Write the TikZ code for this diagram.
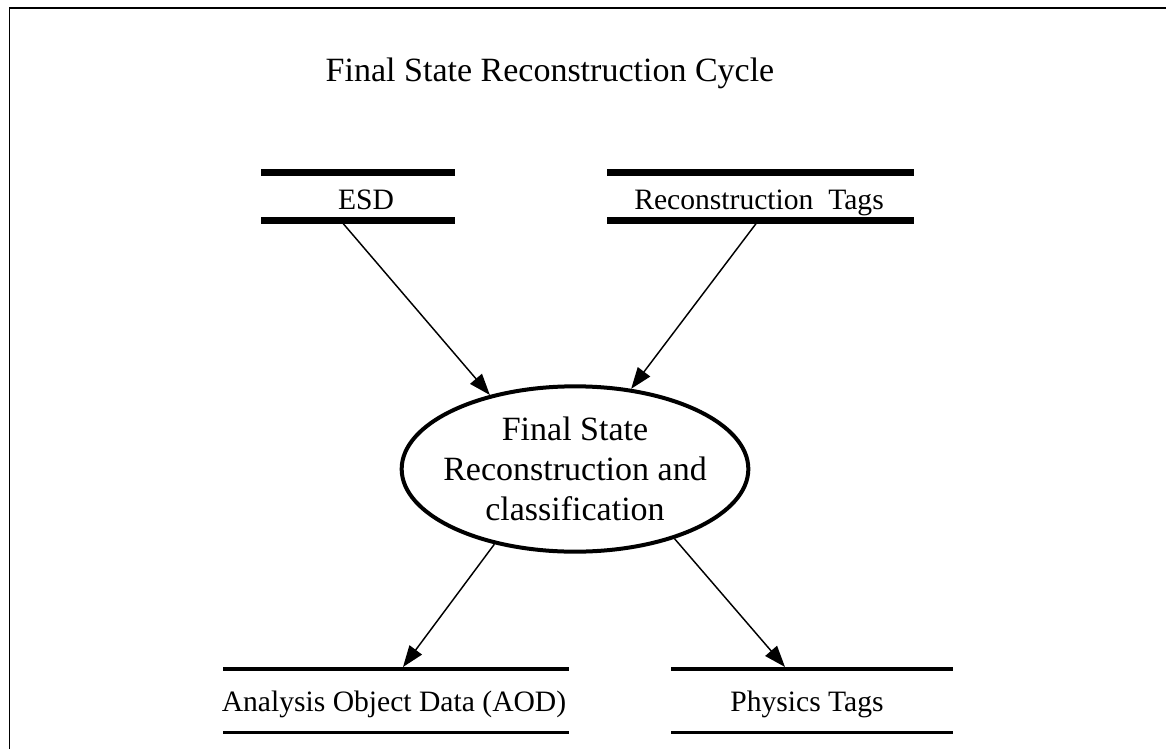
\documentclass[tikz,border=0pt]{standalone}
\usepackage{fontspec}
\setmainfont{Liberation Serif}
\usetikzlibrary{arrows.meta,shapes.geometric}
\begin{document}
\begin{tikzpicture}[x=0.75pt,y=-0.75pt,
  storelabel/.style={font=\fontsize{22.2}{26}\selectfont, inner sep=0pt, anchor=base},
  storetop/.style={line width=5.25pt},
  storebot/.style={line width=2.6pt},
  flow/.style={line width=1.1pt,-{Triangle[length=16pt,width=11.5pt]}},
  process/.style={ellipse, draw, line width=3pt, minimum width=260pt,
    minimum height=124pt, align=center, inner xsep=-8pt, inner ysep=0pt,
    font=\fontsize{25.5}{30}\selectfont}]
\useasboundingbox (0,0) rectangle (1166,749);
% frame
\draw[line width=1.1pt] (9.5,749) -- (9.5,8) -- (1166,8);
% title
\node[font=\fontsize{25.5}{30}\selectfont, inner sep=0pt, anchor=base] (title) at (550,82)
  {Final State Reconstruction Cycle};

% input data stores
\node[storelabel] (esd) at (366,209.5) {ESD};
\draw[storetop] (261,172.5) -- (455,172.5);
\draw[storetop] (261,220) -- (455,220);
\coordinate (esdout) at (341,221);

\node[storelabel] (rtags) at (759,209.5) {Reconstruction\ \ Tags};
\draw[storetop] (607,172.5) -- (914,172.5);
\draw[storetop] (607,220) -- (914,220);
\coordinate (rtagsout) at (758,221);

% central process
\node[process] (proc) at (575,469) {Final State\\Reconstruction and\\classification};

% output data stores
\node[storelabel] (aod) at (394,711) {Analysis Object Data (AOD)};
\draw[storebot] (223,669) -- (569,669);
\draw[storebot] (223,732.5) -- (569,732.5);
\coordinate (aodin) at (403,667);

\node[storelabel] (ptags) at (807,711) {Physics Tags};
\draw[storebot] (671,669) -- (953,669);
\draw[storebot] (671,732.5) -- (953,732.5);
\coordinate (ptagsin) at (785,667);

% flows
\draw[flow] (esdout) -- (proc.139);
\draw[flow] (rtagsout) -- (proc.55.4);
\draw[flow] (proc.223.6) -- (aodin);
\draw[flow] (proc.325.4) -- (ptagsin);
\end{tikzpicture}
\end{document}
